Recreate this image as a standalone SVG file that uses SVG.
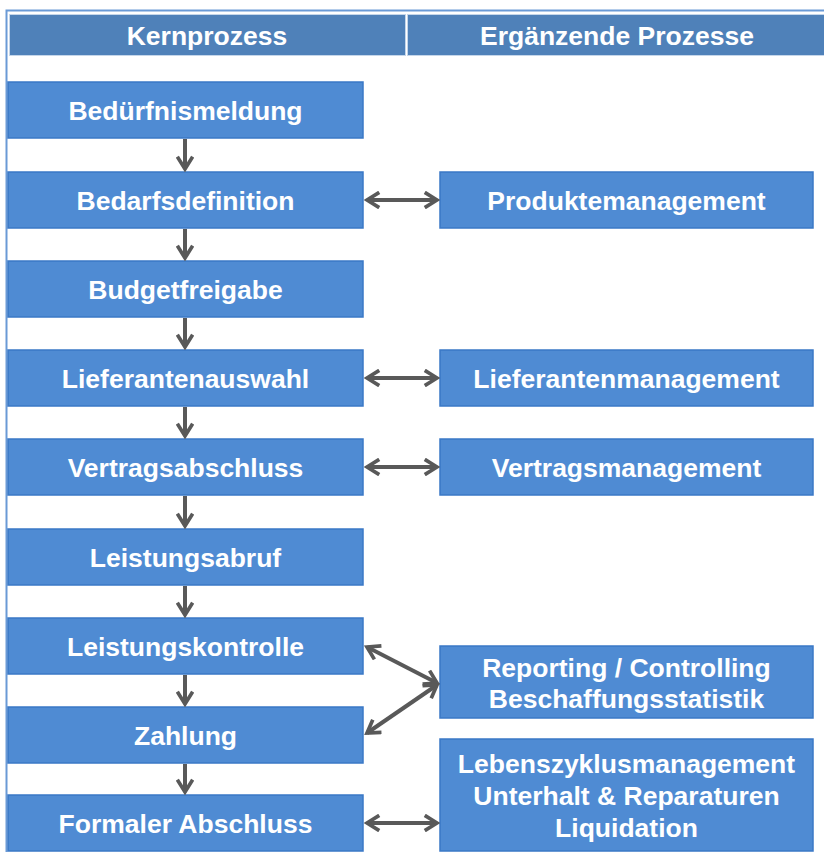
<svg xmlns="http://www.w3.org/2000/svg" width="824" height="852" viewBox="0 0 824 852">
<style>
.hd{fill:#4F81B9;stroke:#C5D6EA;stroke-width:1}
.bx{fill:#4F8BD3;stroke:#3A78C6;stroke-width:1.5}
.t{font-family:"Liberation Sans",Arial,sans-serif;font-weight:bold;font-size:26.5px;fill:#FFFFFF;text-anchor:middle}
.c{stroke:#595959;stroke-width:4;fill:none}
</style>
<defs>
<marker id="ah" viewBox="0 0 12 12" refX="10" refY="6" markerWidth="4.6" markerHeight="4.6" orient="auto-start-reverse" markerUnits="strokeWidth">
<path d="M2,1 L10,6 L2,11" fill="none" stroke="#595959" stroke-width="2.4" stroke-linejoin="miter"/>
</marker>
</defs>
<rect width="824" height="852" fill="#FFFFFF"/>
<path d="M6.5,852 V10.5 H824" fill="none" stroke="#6A9AD6" stroke-width="2"/>
<g id="header">
<rect class="hd" x="9.5" y="14.5" width="396" height="41"/>
<rect class="hd" x="407.5" y="14.5" width="417" height="41"/>
<text class="t" x="207" y="45">Kernprozess</text>
<text class="t" x="617" y="45">Ergänzende Prozesse</text>
</g>
<g id="n1"><rect class="bx" x="8" y="82" width="355" height="56"/><text class="t" x="185.5" y="119.5">Bedürfnismeldung</text></g>
<g id="n2"><rect class="bx" x="8" y="172" width="355" height="56"/><text class="t" x="185.5" y="209.5">Bedarfsdefinition</text></g>
<g id="n3"><rect class="bx" x="8" y="261" width="355" height="56"/><text class="t" x="185.5" y="298.5">Budgetfreigabe</text></g>
<g id="n4"><rect class="bx" x="8" y="350" width="355" height="56"/><text class="t" x="185.5" y="387.5">Lieferantenauswahl</text></g>
<g id="n5"><rect class="bx" x="8" y="439" width="355" height="56"/><text class="t" x="185.5" y="476.5">Vertragsabschluss</text></g>
<g id="n6"><rect class="bx" x="8" y="529" width="355" height="56"/><text class="t" x="185.5" y="566.5">Leistungsabruf</text></g>
<g id="n7"><rect class="bx" x="8" y="618" width="355" height="56"/><text class="t" x="185.5" y="655.5">Leistungskontrolle</text></g>
<g id="n8"><rect class="bx" x="8" y="707" width="355" height="56"/><text class="t" x="185.5" y="744.5">Zahlung</text></g>
<g id="n9"><rect class="bx" x="8" y="795" width="355" height="56"/><text class="t" x="185.5" y="832.5">Formaler Abschluss</text></g>
<g id="r1"><rect class="bx" x="440" y="172" width="373" height="56"/><text class="t" x="626.5" y="209.5">Produktemanagement</text></g>
<g id="r2"><rect class="bx" x="440" y="350" width="373" height="56"/><text class="t" x="626.5" y="387.5">Lieferantenmanagement</text></g>
<g id="r3"><rect class="bx" x="440" y="439" width="373" height="56"/><text class="t" x="626.5" y="476.5">Vertragsmanagement</text></g>
<g id="r4"><rect class="bx" x="440" y="646" width="373" height="72"/><text class="t" x="626.5" y="676.5">Reporting / Controlling</text><text class="t" x="626.5" y="707.5">Beschaffungsstatistik</text></g>
<g id="r5"><rect class="bx" x="440" y="739" width="373" height="112"/><text class="t" x="626.5" y="772.5">Lebenszyklusmanagement</text><text class="t" x="626.5" y="805">Unterhalt &amp; Reparaturen</text><text class="t" x="626.5" y="837">Liquidation</text></g>
<g id="connectors">
<line class="c" x1="185" y1="139" x2="185" y2="169" marker-end="url(#ah)"/>
<line class="c" x1="185" y1="229" x2="185" y2="258" marker-end="url(#ah)"/>
<line class="c" x1="185" y1="318" x2="185" y2="347" marker-end="url(#ah)"/>
<line class="c" x1="185" y1="407" x2="185" y2="436" marker-end="url(#ah)"/>
<line class="c" x1="185" y1="496" x2="185" y2="526" marker-end="url(#ah)"/>
<line class="c" x1="185" y1="586" x2="185" y2="615" marker-end="url(#ah)"/>
<line class="c" x1="185" y1="675" x2="185" y2="704" marker-end="url(#ah)"/>
<line class="c" x1="185" y1="764" x2="185" y2="792" marker-end="url(#ah)"/>
<line class="c" x1="367" y1="200" x2="437" y2="200" marker-start="url(#ah)" marker-end="url(#ah)"/>
<line class="c" x1="367" y1="378" x2="437" y2="378" marker-start="url(#ah)" marker-end="url(#ah)"/>
<line class="c" x1="367" y1="467" x2="437" y2="467" marker-start="url(#ah)" marker-end="url(#ah)"/>
<line class="c" x1="367" y1="647" x2="437" y2="683" marker-start="url(#ah)" marker-end="url(#ah)"/>
<line class="c" x1="367" y1="733" x2="437" y2="685" marker-start="url(#ah)" marker-end="url(#ah)"/>
<line class="c" x1="367" y1="823" x2="437" y2="823" marker-start="url(#ah)" marker-end="url(#ah)"/>
</g>
</svg>
